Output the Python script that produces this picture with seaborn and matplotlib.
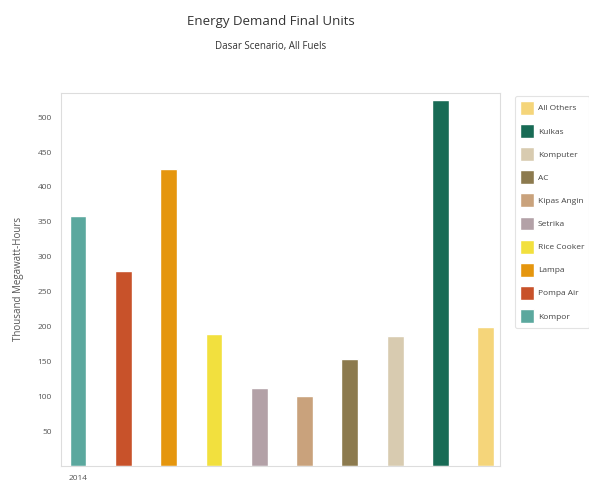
import matplotlib
matplotlib.use("Agg")
import matplotlib.pyplot as plt
from matplotlib.patches import Patch
import pandas as pd
import seaborn as sns

# data
perangkat = ["Kompor", "Pompa Air", "Lampa", "Rice Cooker", "Setrika",
             "Kipas Angin", "AC", "Komputer", "Kulkas", "All Others"]
nilai = [358, 279, 425, 189, 112, 101, 154, 186, 525, 199]
warna = ["#5BA89E", "#C8522A", "#E5960E", "#F2E03E", "#B3A1A7",
         "#C9A27C", "#8C7A4E", "#D8CBB0", "#186B55", "#F5D57A"]
tahun = "2014"

df = pd.DataFrame({"perangkat": perangkat, "nilai": nilai})
palet = dict(zip(perangkat, warna))

sns.set_style("white")
plt.rcParams["font.family"] = ["Open Sans", "DejaVu Sans"]

fig = plt.figure(figsize=(5.89, 4.88), dpi=100)
ax = fig.add_axes([0.1036, 0.045, 0.745, 0.765])

sns.barplot(data=df, x="perangkat", y="nilai", hue="perangkat", order=perangkat,
            palette=palet, width=0.37, legend=False, ax=ax, saturation=1)

ax.set_xlim(-0.375, 9.31)
ax.set_ylim(0, 535)
ax.set_yticks(range(50, 501, 50))
ax.set_xticks([0])
ax.set_xticklabels([tahun])
ax.tick_params(axis="both", labelsize=6, colors="#555555", length=3, width=0.5)
ax.set_xlabel("")
ax.set_ylabel("Thousand Megawatt-Hours", fontsize=7, color="#555555", labelpad=10)
for s in ax.spines.values():
    s.set_color("#dddddd")
    s.set_linewidth(0.8)

fig.text(0.46, 0.955, "Energy Demand Final Units", ha="center", va="center",
         fontsize=9.5, color="#333333")
fig.text(0.46, 0.905, "Dasar Scenario, All Fuels", ha="center", va="center",
         fontsize=7, color="#333333")

handles = [Patch(facecolor=palet[p], label=p) for p in perangkat][::-1]
leg = fig.legend(handles=handles, loc="upper left", bbox_to_anchor=(0.868, 0.812),
                 fontsize=6, frameon=True, handlelength=1.6, handleheight=2.2,
                 labelspacing=1.1, borderpad=0.6, handletextpad=0.5,
                 labelcolor="#444444")
leg.get_frame().set_edgecolor("#dddddd")
leg.get_frame().set_linewidth(0.8)

fig.savefig("out.png", dpi=100)
